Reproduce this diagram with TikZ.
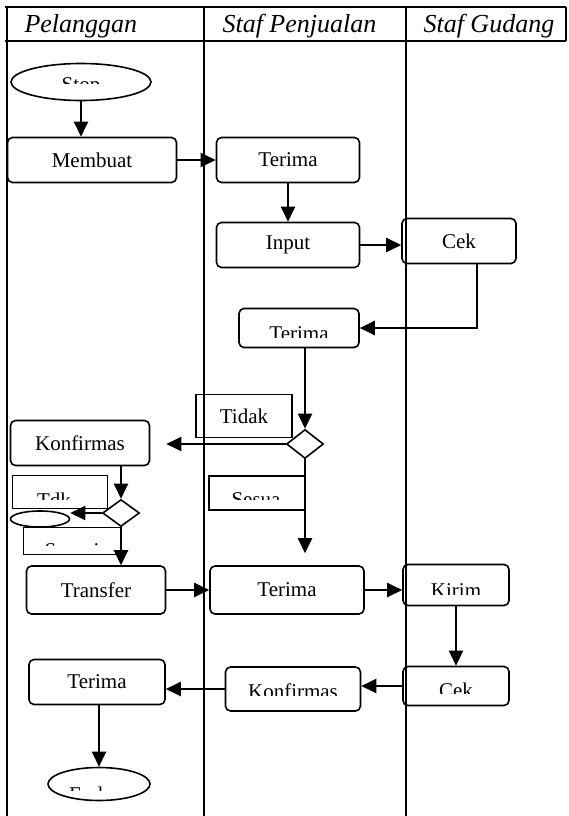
\documentclass[tikz,border=0pt]{standalone}
\usepackage{fontspec}
\setmainfont{Liberation Serif}
\usetikzlibrary{shapes.geometric,arrows.meta,calc}
\newcommand{\cuttext}[4]{%
  \begin{scope}
    \clip (0,0) rectangle (569,#3);
    \node[txt,anchor=base] (#1) at (#2) {#4};
  \end{scope}}
\begin{document}
\begin{tikzpicture}[x=1pt,y=-1pt,
  lane/.style={line width=2pt},
  proc/.style={draw,rounded corners=5pt,line width=1.6pt,inner sep=0pt},
  note/.style={draw,line width=1.6pt,inner sep=0pt},
  term/.style={draw,ellipse,line width=1.6pt,inner sep=0pt},
  dec/.style={draw,diamond,line width=1.6pt,inner sep=0pt},
  txt/.style={inner sep=0pt},
  head/.style={anchor=base west,font=\fontsize{26}{30}\selectfont\itshape},
  arr/.style={line width=2.4pt,-{Triangle[length=15pt,width=14pt]}},
  font=\fontsize{21}{25}\selectfont]
\useasboundingbox (0,0) rectangle (569,816);
\draw[lane] (5,7) -- (566,7) (5,41) -- (566,41) (566,7) -- (566,41);
\foreach \x in {7,204,406}
  \draw[lane] (\x,7) -- (\x,816);
\node[head] (h1) at (21,33) {Pelanggan};
\node[head] (h2) at (219,33) {Staf Penjualan};
\node[head] (h3) at (420,33) {Staf Gudang};

\node[term,minimum width=140,minimum height=37] (start) at (81,82) {};
\cuttext{tstart}{81,92}{83}{Stop}
\node[proc,minimum width=169,minimum height=45] (membuat) at (92,160) {Membuat};
\node[proc,minimum width=143,minimum height=45] (terima1) at (288,160) {Terima};
\node[proc,minimum width=143,minimum height=45] (input) at (288,245) {Input};
\node[proc,minimum width=114,minimum height=45] (cek1) at (459,241) {Cek};
\node[proc,minimum width=120,minimum height=39] (terima2) at (299,328) {};
\cuttext{tterima2}{299,340}{337}{Terima}
\node[note,minimum width=96,minimum height=43] (tidak) at (244,416) {Tidak};
\node[dec,minimum width=37,minimum height=29] (d1) at (305,444) {};
\node[proc,minimum width=139,minimum height=45] (konf1) at (80,443) {Konfirmas};
\node[note,minimum width=95,minimum height=33] (tdk) at (60,492) {};
\cuttext{ttdk}{54,507}{499}{Tdk}
\node[dec,minimum width=37,minimum height=27] (d2) at (121,513) {};
\node[term,minimum width=59,minimum height=16] (oval) at (40,519) {};
\node[note,minimum width=97,minimum height=27] (sesuai) at (72,541) {};
\cuttext{tsesuai}{72,557}{545}{Sesuai}
\node[note,minimum width=96,minimum height=34] (sesua) at (257,493) {};
\cuttext{tsesua}{256,506}{499}{Sesua}
\node[proc,minimum width=139,minimum height=48] (transfer) at (96,590) {Transfer};
\node[proc,minimum width=154,minimum height=48] (terima3) at (287,590) {Terima};
\node[proc,minimum width=106,minimum height=41] (kirim) at (456,585) {};
\cuttext{tkirim}{456,597}{594}{Kirim}
\node[proc,minimum width=106,minimum height=39] (cek2) at (456,686) {};
\cuttext{tcek2}{456,697}{693}{Cek}
\node[proc,minimum width=135,minimum height=44] (konf2) at (293,689) {};
\cuttext{tkonf2}{293,698}{695}{Konfirmas}
\node[proc,minimum width=136,minimum height=45] (terima4) at (97,682) {Terima};
\node[term,minimum width=102,minimum height=33] (finish) at (99,784) {};
\cuttext{tfinish}{86,801}{790}{End}

\draw[arr] (start.south) -- (start.south |- membuat.north);
\draw[arr] (membuat.east) -- (terima1.west);
\draw[arr] (terima1.south) -- (input.north);
\draw[arr] (input.east) -- (input.east -| cek1.west);
\draw[arr] ($(cek1.south)+(18,0)$) |- (terima2.east);
\draw[arr] (d1.north |- terima2.south) -- (d1.north);
\draw[arr,shorten >=16pt] (d1.west) -- (d1.west -| konf1.east);
\draw[arr] (d2.north |- konf1.south) -- (d2.north);
\draw[arr] (d2.west) -- (d2.west -| oval.east);
\draw[arr] (d2.south) -- (d2.south |- transfer.north);
\draw[arr,shorten >=12pt] (d1.south) -- (d1.south |- terima3.north);
\draw[arr] (transfer.east) -- (transfer.east -| terima3.west);
\draw[arr] (terima3.east) -- (terima3.east -| kirim.west);
\draw[arr] (kirim.south) -- (cek2.north);
\draw[arr] (cek2.west) -- (cek2.west -| konf2.east);
\draw[arr] (konf2.west) -- (konf2.west -| terima4.east);
\draw[arr] (finish.north |- terima4.south) -- (finish.north);
\end{tikzpicture}
\end{document}
